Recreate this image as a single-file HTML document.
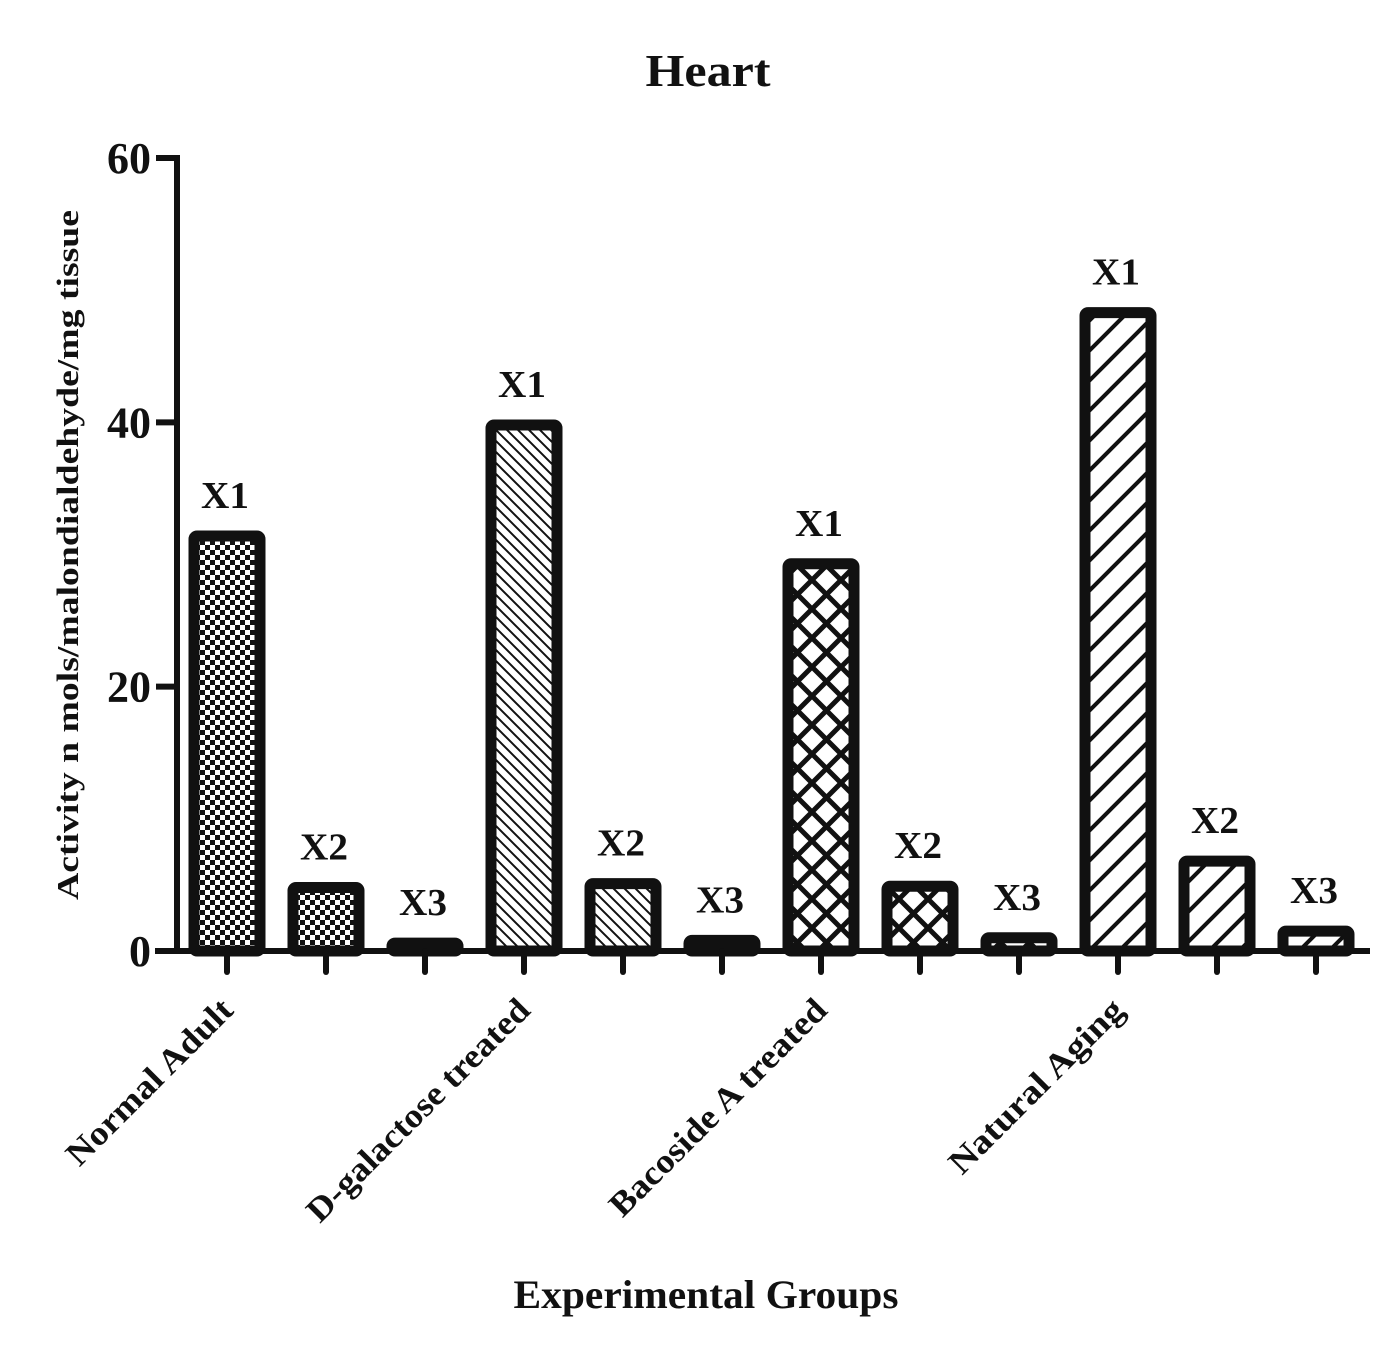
<!DOCTYPE html>
<html><head><meta charset="utf-8"><style>
html,body{margin:0;padding:0;background:#fff}
svg{display:block;font-family:"Liberation Serif",serif;font-weight:bold}
</style></head><body>
<svg id="chart" width="1396" height="1359" viewBox="0 0 1396 1359" xmlns="http://www.w3.org/2000/svg">
<defs>
<pattern id="p-checker" patternUnits="userSpaceOnUse" width="10" height="10"><rect width="10" height="10" fill="#fff"/><rect width="5" height="5" fill="#111"/><rect x="5" y="5" width="5" height="5" fill="#111"/></pattern>
<pattern id="p-back" patternUnits="userSpaceOnUse" width="11" height="11"><rect width="11" height="11" fill="#fff"/><path d="M-2,-2 L13,13 M-2,9 L2,13 M9,-2 L13,2" stroke="#111" stroke-width="2"/></pattern>
<pattern id="p-cross" patternUnits="userSpaceOnUse" width="29" height="29"><rect width="29" height="29" fill="#fff"/><path d="M0,0 L29,29 M29,0 L0,29" stroke="#111" stroke-width="5"/></pattern>
<pattern id="p-fwd" patternUnits="userSpaceOnUse" width="30" height="30"><rect width="30" height="30" fill="#fff"/><path d="M-3,33 L33,-3 M-5,5 L5,-5 M25,35 L35,25" stroke="#111" stroke-width="4"/></pattern>
</defs>
<text x="708" y="86" font-size="46" text-anchor="middle" fill="#111" textLength="125" lengthAdjust="spacingAndGlyphs">Heart</text>
<text transform="translate(78,555) rotate(-90)" font-size="31" text-anchor="middle" fill="#111" textLength="690" lengthAdjust="spacingAndGlyphs">Activity n mols/malondialdehyde/mg tissue</text>
<text x="706" y="1308" font-size="40" text-anchor="middle" fill="#111" textLength="385" lengthAdjust="spacingAndGlyphs">Experimental Groups</text>
<g id="bars"></g>
<g id="axes"></g>
</svg>
<script>
const groups = ["Normal Adult","D-galactose treated","Bacoside A treated","Natural Aging"];
const series = ["X1","X2","X3"];
const valuesX1 = [31.4, 39.8, 29.3, 48.3];
const valuesX2 = [4.8, 5.1, 4.9, 6.8];
const valuesX3 = [0.6, 0.8, 1.0, 1.5];
const yTicks = [0, 20, 40, 60];
const patterns = ["p-checker","p-back","p-cross","p-fwd"];
const labelLens = [220, 300, 292, 232];

const NS = "http://www.w3.org/2000/svg";
const y0 = 951, yTop = 158, yMax = 60;
function yScale(v){ return y0 - (v / yMax) * (y0 - yTop); }
function xScale(i){ return 227 + 99 * i; }
const bars = document.getElementById('bars');
const axes = document.getElementById('axes');
function mk(tag, attrs, parent){ const e = document.createElementNS(NS, tag); for (const k in attrs) e.setAttribute(k, attrs[k]); parent.appendChild(e); return e; }

const all = [valuesX1, valuesX2, valuesX3];
groups.forEach((g, gi) => {
  series.forEach((s, si) => {
    const idx = gi * 3 + si;
    const v = all[si][gi];
    const cx = xScale(idx);
    const top = yScale(v);
    const r = mk('rect', {x: cx - 33, y: top, width: 66, height: Math.max(y0 - top, 1), fill: 'url(#' + patterns[gi] + ')', stroke: '#111', 'stroke-width': 11, rx: 3}, bars);
    
    
    const t = mk('text', {x: cx - 2, y: top - 28, 'font-size': 38, 'text-anchor': 'middle', fill: '#111', textLength: 48, lengthAdjust: 'spacingAndGlyphs'}, bars);
    t.textContent = s;
    
    
  });
});

const yl = mk('line', {x1: 177, y1: 155, x2: 177, y2: 954, stroke: '#111', 'stroke-width': 6}, axes);


const xl = mk('line', {x1: 155, y1: 951, x2: 1370, y2: 951, stroke: '#111', 'stroke-width': 6}, axes);


yTicks.forEach(v => {
  const y = yScale(v);
  const tk = mk('line', {x1: 156, y1: y, x2: 177, y2: y, stroke: '#111', 'stroke-width': 6}, axes);
  
  
  const tl = mk('text', {x: 151, y: y + 15, 'font-size': 44, 'text-anchor': 'end', fill: '#111'}, axes);
  tl.textContent = v;
  
  
});
for (let i = 0; i < 12; i++) {
  const x = xScale(i);
  const tk = mk('line', {x1: x, y1: 951, x2: x, y2: 972, stroke: '#111', 'stroke-width': 6, 'stroke-linecap': 'round'}, axes);
  
  
}
groups.forEach((g, gi) => {
  const x = xScale(gi * 3) + 8, y = 1012;
  const t = mk('text', {transform: 'translate(' + x + ',' + y + ') rotate(-45)', 'font-size': 34, 'text-anchor': 'end', fill: '#111', textLength: labelLens[gi], lengthAdjust: 'spacingAndGlyphs'}, axes);
  t.textContent = g;
  
  
});
</script>
</body></html>
